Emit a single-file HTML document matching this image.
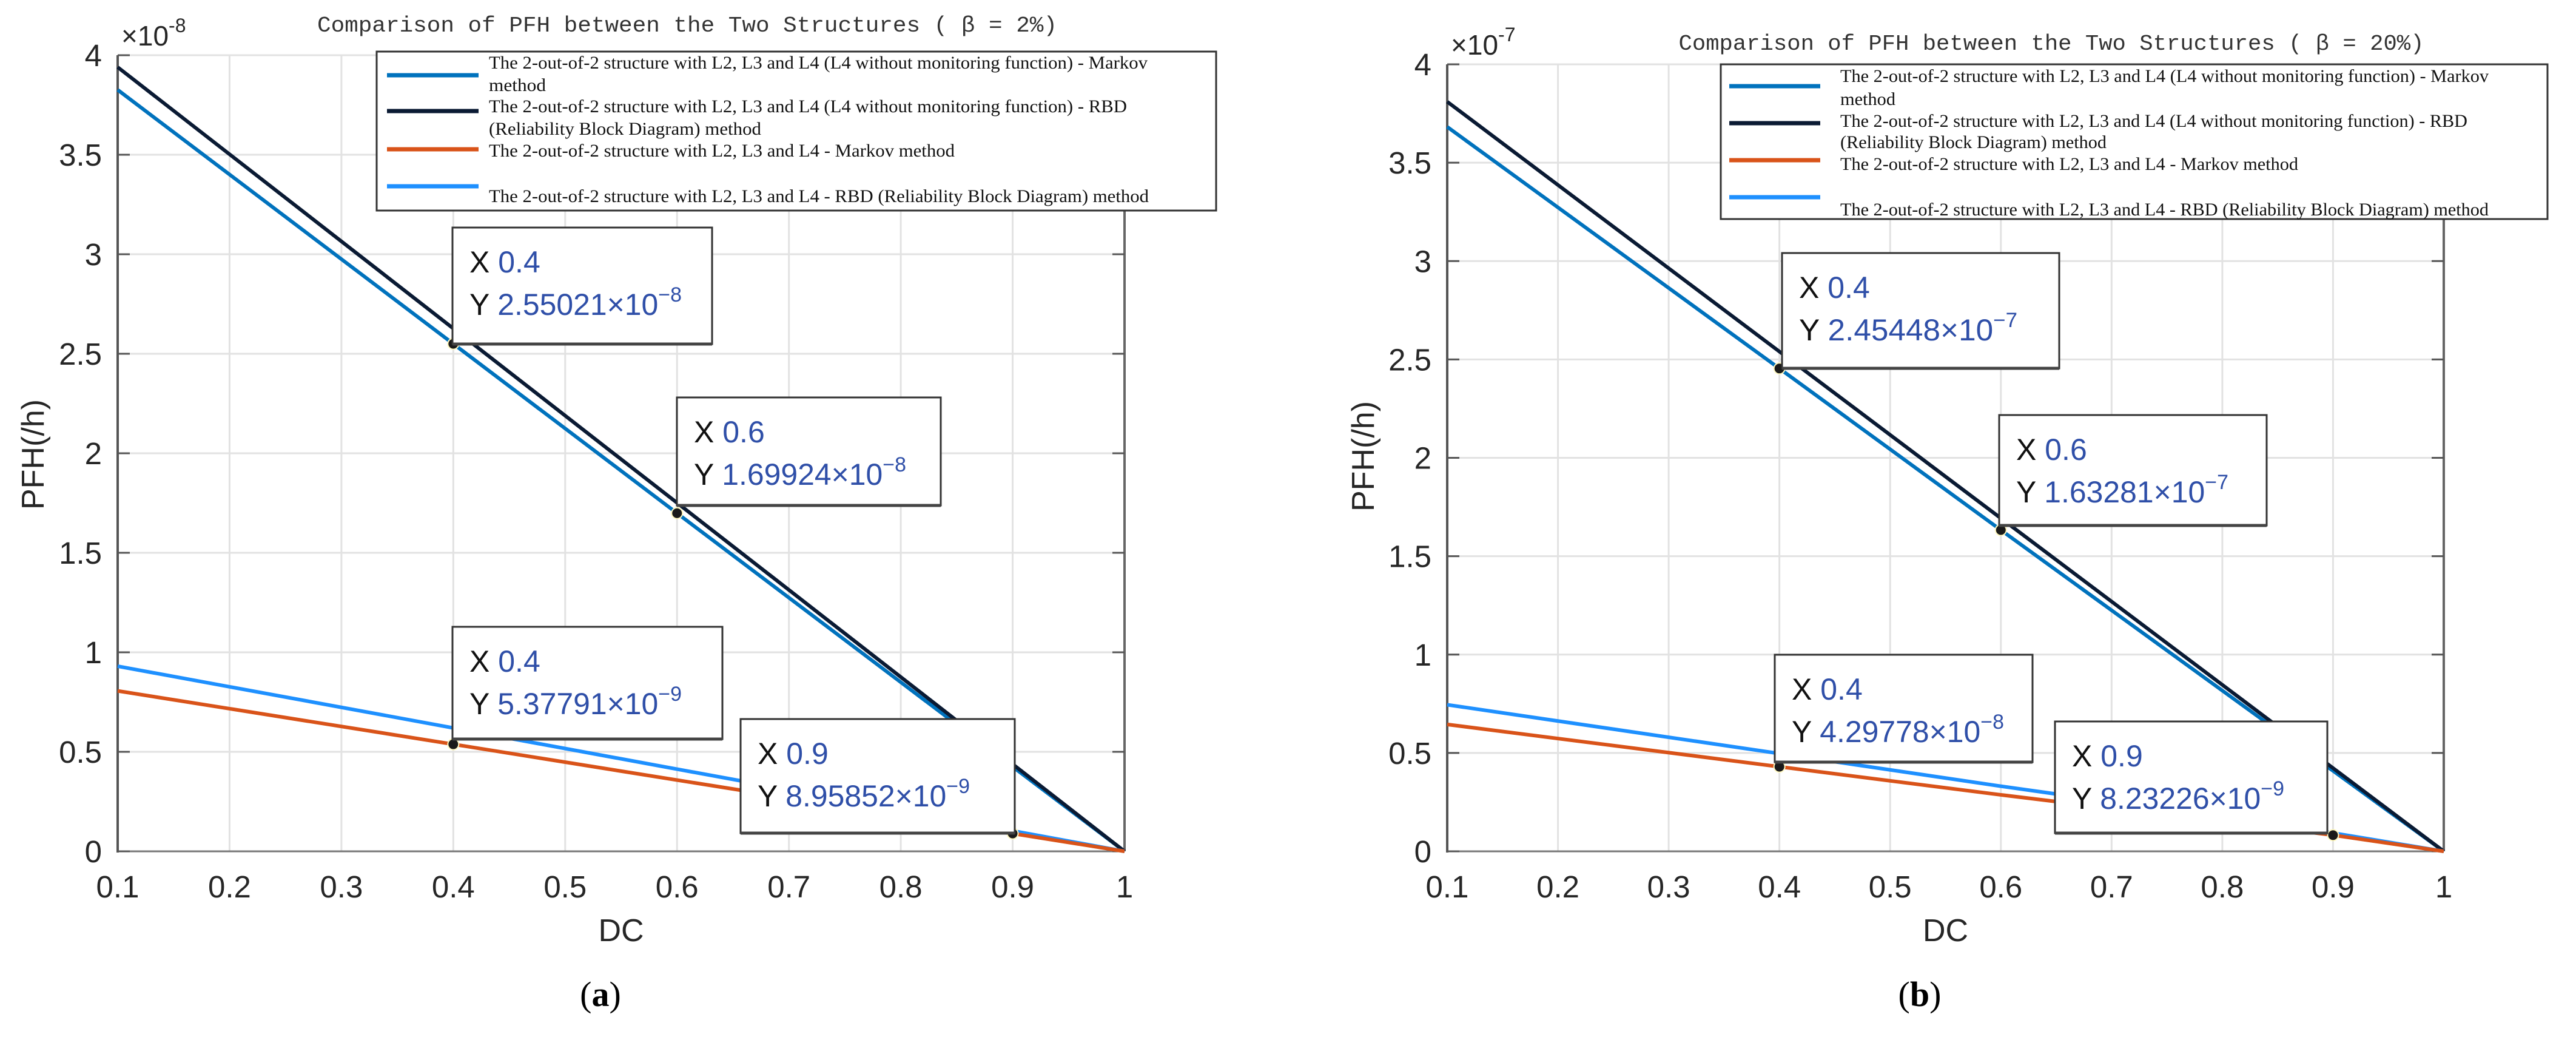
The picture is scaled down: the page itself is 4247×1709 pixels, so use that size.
<!DOCTYPE html>
<html><head><meta charset="utf-8">
<style>
html,body{margin:0;padding:0;background:#fff;}
svg{display:block;}
</style></head>
<body>
<svg id="fig" width="4247" height="1709" viewBox="0 0 4247 1709" xmlns="http://www.w3.org/2000/svg"></svg>
<script>
// ---- data ----
const xTicks = [0.1, 0.2, 0.3, 0.4, 0.5, 0.6, 0.7, 0.8, 0.9, 1];
const xTickLabels = ["0.1","0.2","0.3","0.4","0.5","0.6","0.7","0.8","0.9","1"];
const yTicks = [0, 0.5, 1, 1.5, 2, 2.5, 3, 3.5, 4];
const yTickLabels = ["0","0.5","1","1.5","2","2.5","3","3.5","4"];
const dcValues = [0.1, 0.4, 0.6, 0.9, 1.0];
// chart (a) beta = 2%, units 1e-8
const aMarkovNoMon = [3.826, 2.550, 1.699, 0.425, 0];
const aRbdNoMon = [3.94, 2.627, 1.751, 0.438, 0];
const aMarkov = [0.806, 0.538, 0.358, 0.0896, 0];
const aRbd = [0.93, 0.62, 0.413, 0.103, 0];
// chart (b) beta = 20%, units 1e-7
const bMarkovNoMon = [3.682, 2.454, 1.633, 0.409, 0];
const bRbdNoMon = [3.81, 2.54, 1.693, 0.423, 0];
const bMarkov = [0.645, 0.430, 0.287, 0.0823, 0];
const bRbd = [0.745, 0.497, 0.331, 0.093, 0];

const NS = "http://www.w3.org/2000/svg";
const svg = document.getElementById("fig");
function mk(tag, attrs, parent, text){
  const e = document.createElementNS(NS, tag);
  for (const k in attrs) e.setAttribute(k, attrs[k]);
  if (text !== undefined) e.textContent = text;
  (parent || svg).appendChild(e);
  return e;
}
const COLORS = {mid:"#0072BD", navy:"#0a1a33", orange:"#D95319", light:"#1E90FF"};
const LEG = [
  ["The 2-out-of-2 structure with L2, L3 and L4 (L4 without monitoring function) - Markov","method"],
  ["The 2-out-of-2 structure with L2, L3 and L4 (L4 without monitoring function) - RBD","(Reliability Block Diagram) method"],
  ["The 2-out-of-2 structure with L2, L3 and L4 - Markov method"],
  ["The 2-out-of-2 structure with L2, L3 and L4 - RBD (Reliability Block Diagram) method"]
];

function chart(cfg){
  const g = mk("g", {});
  
  
  const X = v => cfg.x0 + (v - 0.1) / 0.9 * (cfg.x1 - cfg.x0);
  const Y = v => cfg.y0 - v / 4 * (cfg.y0 - cfg.y1);
  xTicks.forEach(t => {
    const l = mk("line", {x1:X(t), x2:X(t), y1:cfg.y1, y2:cfg.y0, stroke:"#e2e2e2", "stroke-width":3}, g);
    
    
  });
  yTicks.forEach(t => {
    const l = mk("line", {x1:cfg.x0, x2:cfg.x1, y1:Y(t), y2:Y(t), stroke:"#e2e2e2", "stroke-width":3}, g);
    
    
  });
  mk("line", {x1:cfg.x0, x2:cfg.x0, y1:cfg.y1, y2:cfg.y0+2, stroke:"#555", "stroke-width":4}, g);
  mk("line", {x1:cfg.x0, x2:cfg.x1, y1:cfg.y0, y2:cfg.y0, stroke:"#777", "stroke-width":3}, g);
  mk("line", {x1:cfg.x1, x2:cfg.x1, y1:cfg.y1, y2:cfg.y0, stroke:"#666", "stroke-width":4}, g);
  yTicks.forEach((t, i) => {
    mk("line", {x1:cfg.x0, x2:cfg.x0+20, y1:Y(t), y2:Y(t), stroke:"#555", "stroke-width":3}, g);
    mk("line", {x1:cfg.x1-20, x2:cfg.x1, y1:Y(t), y2:Y(t), stroke:"#555", "stroke-width":3}, g);
    const tl = mk("text", {x:cfg.x0-26, y:Y(t)+18, "text-anchor":"end", "font-family":"Liberation Sans, sans-serif", "font-size":51, fill:"#262626"}, g, yTickLabels[i]);
    
    
  });
  xTicks.forEach((t, i) => {
    const tl = mk("text", {x:X(t), y:cfg.y0+76, "text-anchor":"middle", "font-family":"Liberation Sans, sans-serif", "font-size":51, fill:"#262626"}, g, xTickLabels[i]);
    
    
  });
  const ex = mk("text", {x:cfg.x0+6, y:cfg.y1-16, "font-family":"Liberation Sans, sans-serif", "font-size":46, fill:"#262626"}, g);
  
  
  mk("tspan", {}, ex, "×10");
  mk("tspan", {dy:-22, "font-size":32}, ex, "-" + cfg.exp);
  const xt = mk("text", {x:(cfg.x0+cfg.x1)/2, y:cfg.y0+148, "text-anchor":"middle", "font-family":"Liberation Sans, sans-serif", "font-size":52, fill:"#262626"}, g, "DC");
  
  
  const yt = mk("text", {x:0, y:0, transform:`translate(${cfg.ylabX},${cfg.ylabY}) rotate(-90)`, "text-anchor":"middle", "font-family":"Liberation Sans, sans-serif", "font-size":52, fill:"#262626"}, g, "PFH(/h)");
  
  
  const tt = mk("text", {x:cfg.titleX, y:cfg.titleY, "text-anchor":"middle", "font-family":"Liberation Mono, monospace", "font-size":36, fill:"#333", textLength:cfg.titleW, lengthAdjust:"spacingAndGlyphs"}, g, cfg.title);
  
  
  const series = [[cfg.s[0], COLORS.mid, "series-markov-no-monitoring"], [cfg.s[1], COLORS.navy, "series-rbd-no-monitoring"], [cfg.s[3], COLORS.light, "series-rbd"], [cfg.s[2], COLORS.orange, "series-markov"]];
  series.forEach(([vals, col, nm]) => {
    const pts = dcValues.map((d, i) => X(d) + "," + Y(vals[i])).join(" ");
    const pl = mk("polyline", {points:pts, fill:"none", stroke:col, "stroke-width":6}, g);
    
    
  });
  const L = cfg.leg;
  const lb = mk("rect", {x:L.x, y:L.y, width:L.w, height:L.h, fill:"#fff", stroke:"#333", "stroke-width":3}, g);
  
  
  const cols = [COLORS.mid, COLORS.navy, COLORS.orange, COLORS.light];
  cols.forEach((c, i) => {
    const sw = mk("line", {x1:L.sx0, x2:L.sx1, y1:L.sy[i], y2:L.sy[i], stroke:c, "stroke-width":7}, g);
    
    
  });
  L.lines.forEach(([txt, y, x2]) => {
    const t = mk("text", {x:L.tx, y:y+10, "font-family":"Liberation Serif, serif", "font-size":30, fill:"#111", textLength:x2-L.tx, lengthAdjust:"spacingAndGlyphs"}, g, txt);
    
    
  });
  cfg.tips.forEach(tp => {
    const dot = mk("circle", {cx:X(tp.x), cy:Y(tp.y), r:9, fill:"#1a1a1a", stroke:"#fff8c0", "stroke-width":2}, g);
    
    
    const b = mk("rect", {x:tp.bx, y:tp.by, width:tp.bw, height:tp.bh, fill:"#fff", stroke:"#333", "stroke-width":3}, g);
    
    
    mk("line", {x1:tp.bx, x2:tp.bx+tp.bw, y1:tp.by+tp.bh, y2:tp.by+tp.bh, stroke:"#444", "stroke-width":5}, g);
    const t1 = mk("text", {x:tp.bx+28, y:tp.by+74, "font-family":"Liberation Sans, sans-serif", "font-size":50, fill:"#111"}, g);
    
    
    mk("tspan", {}, t1, "X ");
    mk("tspan", {fill:"#2f4fa8"}, t1, String(tp.x));
    const t2 = mk("text", {x:tp.bx+28, y:tp.by+144, "font-family":"Liberation Sans, sans-serif", "font-size":50, fill:"#111", textLength:tp.tw, lengthAdjust:"spacingAndGlyphs"}, g);
    
    
    mk("tspan", {}, t2, "Y ");
    mk("tspan", {fill:"#2f4fa8"}, t2, tp.label + "×10");
    mk("tspan", {fill:"#2f4fa8", dy:-22, "font-size":34}, t2, "−" + tp.e);
  });
  const cap = mk("text", {x:cfg.capX, y:1658, "text-anchor":"middle", "font-family":"Liberation Serif, serif", "font-size":58, fill:"#000"}, g);
  
  
  mk("tspan", {}, cap, "(");
  mk("tspan", {"font-weight":"bold"}, cap, cfg.cap);
  mk("tspan", {}, cap, ")");
}

chart({
  name:"chart-a", x0:194, x1:1854, y0:1403, y1:91, exp:8,
  ylabX:72, ylabY:749, title:"Comparison of PFH between the Two Structures ( β = 2%)", titleX:1133, titleY:52, titleW:1220,
  s:[aMarkovNoMon, aRbdNoMon, aMarkov, aRbd], capX:990, cap:"a",
  leg:{x:621, y:85, w:1384, h:262, sx0:638, sx1:789, sy:[124,183,246,307], tx:806,
    lines:[[LEG[0][0],103,1892],[LEG[0][1],140,900],[LEG[1][0],175,1858],[LEG[1][1],212,1255],[LEG[2][0],248,1574],[LEG[3][0],323,1894]]},
  tips:[
    {x:0.4, y:aMarkovNoMon[1], label:"2.55021", e:8, bx:746, by:375, bw:428, bh:192, tw:350},
    {x:0.6, y:aMarkovNoMon[2], label:"1.69924", e:8, bx:1116, by:655, bw:435, bh:178, tw:350},
    {x:0.4, y:aMarkov[1], label:"5.37791", e:9, bx:746, by:1033, bw:445, bh:185, tw:350},
    {x:0.9, y:aMarkov[3], label:"8.95852", e:9, bx:1221, by:1185, bw:452, bh:188, tw:350}
  ]
});
chart({
  name:"chart-b", x0:2386, x1:4029, y0:1403, y1:106, exp:7,
  ylabX:2265, ylabY:752, title:"Comparison of PFH between the Two Structures ( β = 20%)", titleX:3382, titleY:82, titleW:1229,
  s:[bMarkovNoMon, bRbdNoMon, bMarkov, bRbd], capX:3165, cap:"b",
  leg:{x:2837, y:106, w:1363, h:255, sx0:2851, sx1:3001, sy:[142,203,264,325], tx:3034,
    lines:[[LEG[0][0],125,4103],[LEG[0][1],163,3125],[LEG[1][0],199,4068],[LEG[1][1],234,3473],[LEG[2][0],270,3789],[LEG[3][0],345,4103]]},
  tips:[
    {x:0.4, y:bMarkovNoMon[1], label:"2.45448", e:7, bx:2938, by:417, bw:457, bh:190, tw:360},
    {x:0.6, y:bMarkovNoMon[2], label:"1.63281", e:7, bx:3296, by:684, bw:441, bh:182, tw:350},
    {x:0.4, y:bMarkov[1], label:"4.29778", e:8, bx:2926, by:1079, bw:425, bh:177, tw:350},
    {x:0.9, y:bMarkov[3], label:"8.23226", e:9, bx:3388, by:1189, bw:449, bh:184, tw:350}
  ]
});
</script>
</body></html>
